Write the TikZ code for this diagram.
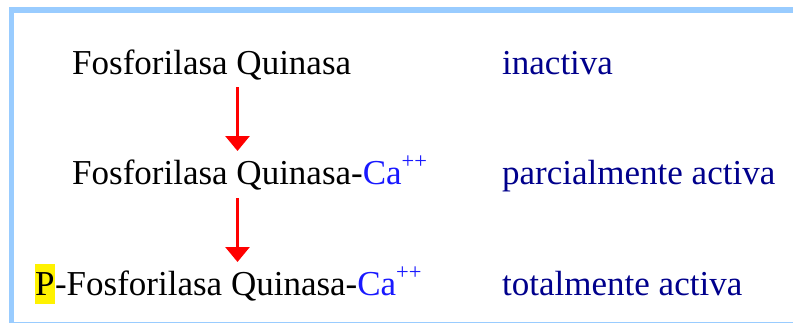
\documentclass[tikz,border=0pt]{standalone}
\usepackage{fontspec}
\setmainfont{Liberation Serif}
\usetikzlibrary{arrows.meta}
\definecolor{framecol}{RGB}{153,204,255}
\definecolor{navytext}{RGB}{0,0,140}
\definecolor{cablue}{RGB}{25,25,255}
\definecolor{arrowred}{RGB}{255,0,0}
\newcommand{\capp}{\textcolor{cablue}{Ca{\fontsize{22.5}{22}\selectfont\raisebox{15.5pt}{++}}}}
\begin{document}
\begin{tikzpicture}[x=1pt,y=-1pt,
  lbl/.style={anchor=base west,inner sep=0pt,font=\rmfamily\fontsize{35}{40}\selectfont},
  state/.style={lbl,text=navytext},
  flow/.style={draw=arrowred,line width=3pt,-{Triangle[width=24pt,length=15pt]}},
  framebar/.style={fill=framecol,draw=none}]
\useasboundingbox (0,0) rectangle (793,325);
\fill[white] (0,0) rectangle (793,325);
% frame
\path[framebar] (9,7) rectangle (793,13);
\path[framebar] (9,7) rectangle (14,323);
\path[framebar] (9,321.5) rectangle (793,323);
% rows
\node[lbl] (r1) at (72,74) {Fosforilasa Quinasa};
\node[lbl] (r2) at (72,184) {Fosforilasa Quinasa-\capp};
\node[fill=yellow,inner sep=0pt,text height=31pt,text depth=9pt,anchor=base west,font=\rmfamily\fontsize{35}{40}\selectfont] (p) at (35,295) {P};
\node[lbl,anchor=base west] (r3) at (p.base east) {-Fosforilasa Quinasa-\capp};
\node[state] (s1) at (502,74) {inactiva};
\node[state] (s2) at (502,184) {parcialmente activa};
\node[state] (s3) at (502,295) {totalmente activa};
% arrows
\coordinate (a1s) at (237.5,87);
\coordinate (a1e) at (237.5,151);
\coordinate (a2s) at (237.5,198);
\coordinate (a2e) at (237.5,262);
\draw[flow] (a1s) -- (a1e);
\draw[flow] (a2s) -- (a2e);
\end{tikzpicture}
\end{document}
